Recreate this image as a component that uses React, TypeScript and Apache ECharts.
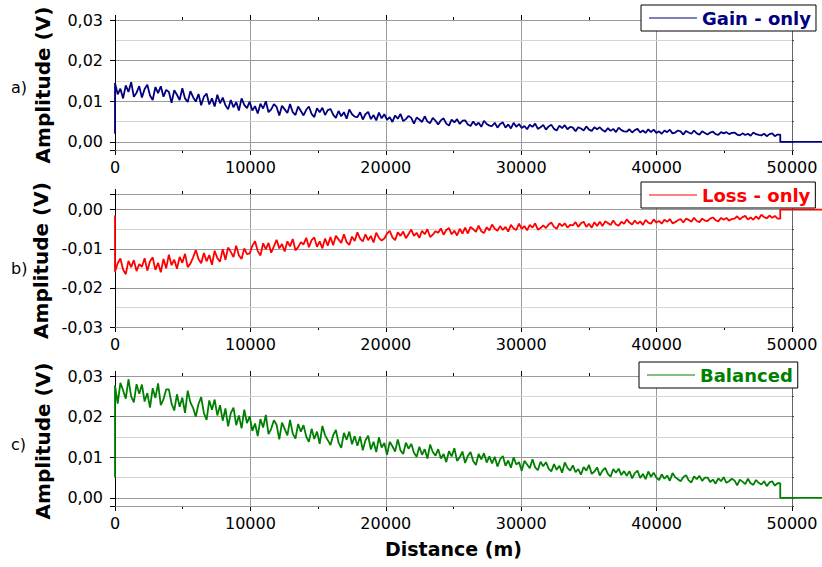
import React, { useEffect, useRef } from "react";
import * as echarts from "echarts";

// Sample spacing along the fibre (m)
const distanceStep = 200;
const distanceMax = 50000;
const signalEnd = 49400; // where the trace drops to zero
const tailEnd = 52500; // trace continues past the frame

const panelLabels = ["a)", "b)", "c)"];
const seriesNames = ["Gain - only", "Loss - only", "Balanced"];
const seriesColors = ["#000080", "#ff0000", "#008000"];
const yRanges: [number, number][] = [
  [-0.002, 0.03],
  [-0.03, 0.004],
  [-0.002, 0.03],
];
const startValues = [0.002, -0.0015, 0.005];
const tailValues = [0, 0, 0];

// Amplitude (V) every 200 m, from 0 to 49200 m
const gainOnly = [
  0.0145, 0.0117, 0.0131, 0.0107, 0.0139, 0.0123, 0.0147, 0.0111, 0.0121, 0.0137,
  0.0109, 0.0130, 0.0141, 0.0114, 0.0103, 0.0135, 0.0120, 0.0137, 0.0111, 0.0128,
  0.0123, 0.0096, 0.0127, 0.0116, 0.0103, 0.0132, 0.0107, 0.0098, 0.0125, 0.0110,
  0.0099, 0.0118, 0.0090, 0.0111, 0.0119, 0.0092, 0.0107, 0.0087, 0.0116, 0.0095,
  0.0109, 0.0090, 0.0080, 0.0103, 0.0085, 0.0098, 0.0077, 0.0107, 0.0091, 0.0083,
  0.0099, 0.0077, 0.0088, 0.0070, 0.0094, 0.0082, 0.0100, 0.0073, 0.0080, 0.0093,
  0.0086, 0.0065, 0.0089, 0.0080, 0.0071, 0.0093, 0.0073, 0.0066, 0.0087, 0.0076,
  0.0065, 0.0079, 0.0087, 0.0069, 0.0061, 0.0083, 0.0073, 0.0084, 0.0066, 0.0078,
  0.0081, 0.0067, 0.0059, 0.0076, 0.0063, 0.0073, 0.0057, 0.0080, 0.0068, 0.0062,
  0.0061, 0.0073, 0.0055, 0.0068, 0.0074, 0.0056, 0.0066, 0.0053, 0.0072, 0.0058,
  0.0068, 0.0054, 0.0061, 0.0049, 0.0065, 0.0057, 0.0069, 0.0051, 0.0056, 0.0064,
  0.0059, 0.0045, 0.0060, 0.0055, 0.0049, 0.0063, 0.0050, 0.0046, 0.0059, 0.0052,
  0.0043, 0.0053, 0.0058, 0.0045, 0.0040, 0.0055, 0.0048, 0.0056, 0.0044, 0.0052,
  0.0053, 0.0043, 0.0039, 0.0050, 0.0041, 0.0047, 0.0037, 0.0052, 0.0044, 0.0040,
  0.0039, 0.0047, 0.0035, 0.0044, 0.0048, 0.0035, 0.0043, 0.0033, 0.0047, 0.0037,
  0.0044, 0.0034, 0.0039, 0.0031, 0.0042, 0.0037, 0.0045, 0.0032, 0.0036, 0.0042,
  0.0030, 0.0038, 0.0042, 0.0032, 0.0028, 0.0040, 0.0034, 0.0041, 0.0031, 0.0037,
  0.0035, 0.0026, 0.0036, 0.0033, 0.0028, 0.0038, 0.0030, 0.0027, 0.0036, 0.0031,
  0.0036, 0.0029, 0.0025, 0.0034, 0.0027, 0.0032, 0.0024, 0.0035, 0.0029, 0.0026,
  0.0025, 0.0031, 0.0023, 0.0029, 0.0032, 0.0023, 0.0028, 0.0022, 0.0031, 0.0024,
  0.0030, 0.0022, 0.0026, 0.0020, 0.0028, 0.0024, 0.0030, 0.0021, 0.0023, 0.0028,
  0.0026, 0.0018, 0.0027, 0.0023, 0.0020, 0.0028, 0.0021, 0.0018, 0.0026, 0.0022,
  0.0018, 0.0023, 0.0025, 0.0019, 0.0017, 0.0024, 0.0021, 0.0024, 0.0019, 0.0022,
  0.0023, 0.0018, 0.0016, 0.0021, 0.0017, 0.0020, 0.0015, 0.0023, 0.0019, 0.0017,
  0.0016, 0.0020, 0.0014, 0.0019, 0.0021, 0.0014, 0.0018,
];

const lossOnly = [
  -0.0159, -0.0137, -0.0125, -0.0153, -0.0165, -0.0131, -0.0147, -0.0129, -0.0157, -0.0139,
  -0.0146, -0.0124, -0.0156, -0.0132, -0.0122, -0.0154, -0.0136, -0.0160, -0.0126, -0.0150,
  -0.0115, -0.0142, -0.0128, -0.0151, -0.0121, -0.0136, -0.0113, -0.0147, -0.0138, -0.0122,
  -0.0103, -0.0126, -0.0137, -0.0111, -0.0132, -0.0116, -0.0141, -0.0105, -0.0124, -0.0133,
  -0.0101, -0.0128, -0.0097, -0.0108, -0.0121, -0.0092, -0.0117, -0.0126, -0.0099, -0.0114,
  -0.0112, -0.0092, -0.0081, -0.0106, -0.0117, -0.0086, -0.0101, -0.0085, -0.0110, -0.0094,
  -0.0077, -0.0099, -0.0088, -0.0107, -0.0081, -0.0094, -0.0075, -0.0104, -0.0096, -0.0083,
  -0.0089, -0.0072, -0.0096, -0.0078, -0.0071, -0.0095, -0.0081, -0.0099, -0.0074, -0.0092,
  -0.0070, -0.0091, -0.0067, -0.0076, -0.0085, -0.0063, -0.0083, -0.0090, -0.0069, -0.0080,
  -0.0058, -0.0074, -0.0081, -0.0063, -0.0078, -0.0067, -0.0084, -0.0059, -0.0072, -0.0079,
  -0.0074, -0.0061, -0.0054, -0.0071, -0.0078, -0.0058, -0.0067, -0.0056, -0.0073, -0.0062,
  -0.0051, -0.0067, -0.0059, -0.0072, -0.0054, -0.0063, -0.0050, -0.0070, -0.0064, -0.0055,
  -0.0059, -0.0048, -0.0064, -0.0052, -0.0047, -0.0063, -0.0054, -0.0066, -0.0049, -0.0061,
  -0.0046, -0.0061, -0.0044, -0.0050, -0.0057, -0.0041, -0.0055, -0.0060, -0.0045, -0.0053,
  -0.0038, -0.0049, -0.0054, -0.0042, -0.0052, -0.0044, -0.0056, -0.0039, -0.0048, -0.0052,
  -0.0036, -0.0049, -0.0042, -0.0053, -0.0039, -0.0046, -0.0035, -0.0051, -0.0047, -0.0040,
  -0.0047, -0.0038, -0.0033, -0.0044, -0.0049, -0.0035, -0.0042, -0.0035, -0.0046, -0.0039,
  -0.0040, -0.0032, -0.0044, -0.0035, -0.0031, -0.0044, -0.0036, -0.0046, -0.0032, -0.0042,
  -0.0031, -0.0042, -0.0030, -0.0034, -0.0039, -0.0028, -0.0038, -0.0041, -0.0031, -0.0036,
  -0.0025, -0.0033, -0.0038, -0.0028, -0.0036, -0.0030, -0.0039, -0.0026, -0.0033, -0.0036,
  -0.0025, -0.0033, -0.0029, -0.0036, -0.0026, -0.0031, -0.0024, -0.0035, -0.0032, -0.0027,
  -0.0024, -0.0033, -0.0023, -0.0026, -0.0031, -0.0021, -0.0029, -0.0032, -0.0023, -0.0028,
  -0.0029, -0.0023, -0.0020, -0.0027, -0.0030, -0.0021, -0.0026, -0.0021, -0.0028, -0.0024,
  -0.0023, -0.0017, -0.0025, -0.0019, -0.0016, -0.0025, -0.0020, -0.0026, -0.0017, -0.0024,
  -0.0013, -0.0019, -0.0022, -0.0015, -0.0021, -0.0016, -0.0023,
];

const balanced = [
  0.0277, 0.0232, 0.0283, 0.0265, 0.0244, 0.0292, 0.0250, 0.0235, 0.0280, 0.0256,
  0.0279, 0.0237, 0.0258, 0.0222, 0.0270, 0.0246, 0.0282, 0.0228, 0.0243, 0.0267,
  0.0267, 0.0232, 0.0215, 0.0255, 0.0224, 0.0247, 0.0209, 0.0264, 0.0235, 0.0221,
  0.0200, 0.0231, 0.0248, 0.0209, 0.0192, 0.0240, 0.0217, 0.0242, 0.0203, 0.0228,
  0.0190, 0.0220, 0.0176, 0.0209, 0.0222, 0.0179, 0.0203, 0.0171, 0.0217, 0.0184,
  0.0201, 0.0165, 0.0183, 0.0152, 0.0194, 0.0173, 0.0204, 0.0157, 0.0170, 0.0191,
  0.0180, 0.0144, 0.0185, 0.0170, 0.0154, 0.0192, 0.0158, 0.0146, 0.0182, 0.0163,
  0.0179, 0.0151, 0.0138, 0.0170, 0.0145, 0.0163, 0.0133, 0.0177, 0.0154, 0.0142,
  0.0130, 0.0154, 0.0167, 0.0136, 0.0123, 0.0160, 0.0143, 0.0163, 0.0132, 0.0152,
  0.0128, 0.0151, 0.0117, 0.0142, 0.0153, 0.0119, 0.0138, 0.0113, 0.0149, 0.0124,
  0.0135, 0.0106, 0.0138, 0.0127, 0.0114, 0.0144, 0.0117, 0.0108, 0.0136, 0.0121,
  0.0133, 0.0111, 0.0101, 0.0126, 0.0106, 0.0120, 0.0097, 0.0131, 0.0113, 0.0104,
  0.0120, 0.0097, 0.0108, 0.0088, 0.0115, 0.0102, 0.0122, 0.0091, 0.0100, 0.0114,
  0.0086, 0.0103, 0.0113, 0.0091, 0.0081, 0.0108, 0.0095, 0.0110, 0.0087, 0.0102,
  0.0085, 0.0101, 0.0077, 0.0095, 0.0103, 0.0079, 0.0092, 0.0074, 0.0100, 0.0082,
  0.0088, 0.0067, 0.0091, 0.0082, 0.0073, 0.0095, 0.0075, 0.0068, 0.0089, 0.0078,
  0.0088, 0.0072, 0.0065, 0.0083, 0.0069, 0.0079, 0.0062, 0.0087, 0.0074, 0.0067,
  0.0080, 0.0063, 0.0071, 0.0057, 0.0076, 0.0067, 0.0081, 0.0059, 0.0065, 0.0075,
  0.0055, 0.0067, 0.0074, 0.0059, 0.0052, 0.0071, 0.0062, 0.0072, 0.0056, 0.0066,
  0.0054, 0.0066, 0.0048, 0.0061, 0.0067, 0.0049, 0.0059, 0.0046, 0.0065, 0.0052,
  0.0062, 0.0050, 0.0044, 0.0058, 0.0047, 0.0055, 0.0042, 0.0061, 0.0051, 0.0046,
  0.0041, 0.0051, 0.0056, 0.0043, 0.0038, 0.0053, 0.0046, 0.0054, 0.0042, 0.0050,
  0.0050, 0.0039, 0.0045, 0.0035, 0.0048, 0.0041, 0.0051, 0.0037, 0.0041, 0.0047,
  0.0043, 0.0031, 0.0045, 0.0040, 0.0034, 0.0047, 0.0036, 0.0032, 0.0044, 0.0037,
  0.0033, 0.0041, 0.0029, 0.0038, 0.0041, 0.0030, 0.0036,
];

const traces = [gainOnly, lossOnly, balanced];

const FONT = "DejaVu Sans";

const frameGrids = [
  { left: 115, top: 20, width: 677, height: 130 },
  { left: 115, top: 194, width: 677, height: 133 },
  { left: 115, top: 376, width: 677, height: 130 },
];
const legendPos = [
  { left: 641, top: 5 },
  { left: 641, top: 182 },
  { left: 639, top: 362 },
];
const panelLabelPos = [
  { x: 11, y: 87 },
  { x: 11, y: 268 },
  { x: 11, y: 444 },
];

function buildTrace(values: number[], start: number, tail: number) {
  const pts: [number, number][] = [[0, start]];
  values.forEach((v, i) => pts.push([i * distanceStep, v]));
  pts.push([signalEnd, values[values.length - 1]]);
  pts.push([signalEnd, tail]);
  pts.push([tailEnd, tail]);
  return pts;
}

function fmtY(v: number) {
  const r = Math.round(v / 0.01) * 0.01;
  if (Math.abs(v - r) > 1e-9) return "";
  const val = Math.abs(r) < 1e-9 ? 0 : r;
  return val.toFixed(2).replace(".", ",");
}

export default function App() {
  const ref = useRef<HTMLDivElement>(null);
  useEffect(() => {
    document.body.style.margin = "0";
    if (!ref.current) return;
    const chart = echarts.init(ref.current, undefined, { renderer: "svg" });

    const grid: any[] = [];
    const xAxis: any[] = [];
    const yAxis: any[] = [];
    const series: any[] = [];
    const legend: any[] = [];

    frameGrids.forEach((g, i) => {
      const frameIdx = grid.length;
      grid.push(g);
      const dataIdx = grid.length;
      // data grid: same scale, extended so the trace can run past 50000 m
      grid.push({ ...g, width: (g.width * tailEnd) / distanceMax });

      const [mn, mx] = yRanges[i];
      xAxis.push({
        type: "value",
        gridIndex: frameIdx,
        position: "bottom",
        min: 0,
        max: distanceMax,
        interval: 10000,
        name: i === 2 ? "Distance (m)" : "",
        nameLocation: "middle",
        nameGap: 33,
        nameTextStyle: { fontFamily: FONT, fontWeight: "bold", fontSize: 19, color: "#000" },
        axisLine: { show: true, onZero: false, lineStyle: { color: "#000", width: 1 } },
        axisTick: { show: true, inside: false, length: 5, lineStyle: { color: "#000" } },
        minorTick: { show: true, splitNumber: 2, length: 3, lineStyle: { color: "#000" } },
        axisLabel: {
          fontFamily: FONT,
          fontSize: 16,
          color: "#000",
          margin: 9,
          formatter: (v: number) => (v % 10000 === 0 ? String(v) : ""),
        },
        splitLine: { show: true, lineStyle: { color: "#9a9a9a", width: 1 } },
      });
      xAxis.push({
        type: "value",
        gridIndex: frameIdx,
        position: "top",
        min: 0,
        max: distanceMax,
        interval: 10000,
        axisLine: { show: true, onZero: false, lineStyle: { color: "#000", width: 1 } },
        axisTick: { show: true, inside: false, length: 5, lineStyle: { color: "#000" } },
        minorTick: { show: true, splitNumber: 2, length: 3, lineStyle: { color: "#000" } },
        axisLabel: { show: false },
        splitLine: { show: false },
      });
      const xData = xAxis.length;
      xAxis.push({ type: "value", gridIndex: dataIdx, min: 0, max: tailEnd, show: false });

      yAxis.push({
        type: "value",
        gridIndex: frameIdx,
        position: "left",
        min: mn,
        max: mx,
        splitNumber: 3,
        minInterval: 0.01,
        maxInterval: 0.01,
        z: 3,
        name: "Amplitude (V)",
        nameLocation: "middle",
        nameGap: 62,
        nameTextStyle: { fontFamily: FONT, fontWeight: "bold", fontSize: 20, color: "#000" },
        axisLine: { show: true, onZero: false, lineStyle: { color: "#000", width: 1 } },
        axisTick: { show: true, inside: false, length: 5, lineStyle: { color: "#000" } },
        axisLabel: {
          fontFamily: FONT,
          fontSize: 16,
          color: "#000",
          margin: 12,
          formatter: fmtY,
        },
        splitLine: { show: true, lineStyle: { color: "#9a9a9a", width: 1 } },
      });
      yAxis.push({
        type: "value",
        gridIndex: frameIdx,
        position: "right",
        min: mn,
        max: mx,
        splitNumber: 6,
        minInterval: 0.005,
        maxInterval: 0.005,
        z: 1,
        axisLine: { show: true, onZero: false, lineStyle: { color: "#666", width: 1 } },
        axisTick: { show: true, inside: false, length: 2, lineStyle: { color: "#444" } },
        axisLabel: { show: false },
        splitLine: { show: true, lineStyle: { color: "#d4d4d4", width: 1 } },
      });
      const yData = yAxis.length;
      yAxis.push({ type: "value", gridIndex: dataIdx, min: mn, max: mx, show: false });

      series.push({
        name: seriesNames[i],
        type: "line",
        xAxisIndex: xData,
        yAxisIndex: yData,
        data: buildTrace(traces[i], startValues[i], tailValues[i]),
        symbol: "none",
        showSymbol: false,
        clip: false,
        z: 5,
        lineStyle: { color: seriesColors[i], width: 1.8 },
        itemStyle: { color: seriesColors[i] },
      });

      legend.push({
        data: [seriesNames[i]],
        left: legendPos[i].left,
        top: legendPos[i].top,
        orient: "horizontal",
        selectedMode: false,
        icon: "rect",
        backgroundColor: "#fff",
        borderColor: "#000",
        borderWidth: 1,
        borderRadius: 0,
        padding: [3, 5, 3, 8],
        itemWidth: 48,
        itemHeight: 1,
        z: 10,
        textStyle: {
          fontFamily: FONT,
          fontWeight: "bold",
          fontSize: 18,
          lineHeight: 20,
          color: seriesColors[i],
        },
      });
    });

    chart.setOption({
      animation: false,
      backgroundColor: "#fff",
      grid,
      xAxis,
      yAxis,
      series,
      legend,
      graphic: panelLabels.map((t, i) => ({
        type: "text",
        x: panelLabelPos[i].x,
        y: panelLabelPos[i].y,
        style: {
          text: t,
          fontFamily: FONT,
          fontSize: 16,
          fill: "#000",
          textVerticalAlign: "middle",
        },
      })),
    });
    return () => chart.dispose();
  }, []);
  return <div ref={ref} style={{ width: 822, height: 567 }} />;
}
